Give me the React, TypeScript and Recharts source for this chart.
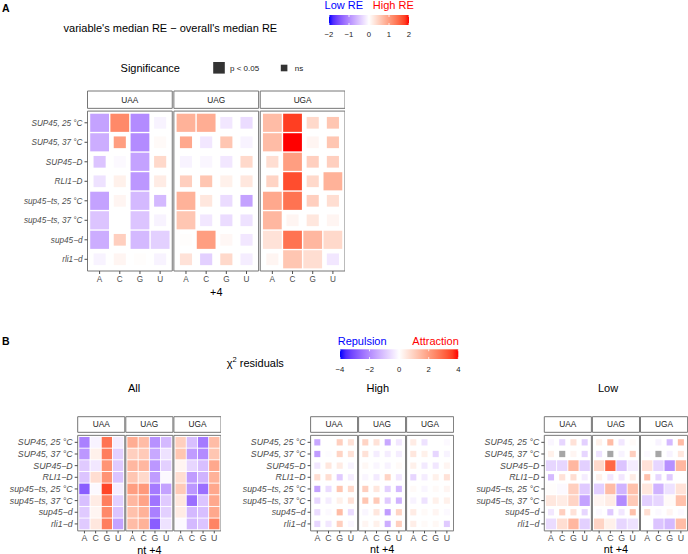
import React from "react";
import { ScatterChart, Scatter, XAxis, YAxis, ReferenceArea } from "recharts";

const FONT = '"Liberation Sans", Arial, Helvetica, sans-serif';
const BORDER = "#767676";
const NA_FILL = "#a6a6a6";

const rowLabels = [
  "SUP45, 25 °C",
  "SUP45, 37 °C",
  "SUP45−D",
  "RLI1−D",
  "sup45−ts, 25 °C",
  "sup45−ts, 37 °C",
  "sup45−d",
  "rli1−d",
];
const stopCodons = ["UAA", "UAG", "UGA"];
const nucleotides = ["A", "C", "G", "U"];

// panel A: variable's median RE - overall's median RE (UAA A C G U | UAG ... | UGA ...)
const reDiff = [
  [-0.8, 1.2, -1.0, -0.1, 0.8, 0.85, -0.2, -0.3, 0.7, 1.8, 0.4, 0.6],
  [-0.7, 1.0, -1.0, 0.05, 0.9, -0.2, 0.6, -0.1, 0.7, 2.0, 0.1, 0.6],
  [-0.5, -0.05, -0.8, 0.4, -0.1, -0.08, -0.2, 0.4, 0.35, 1.0, 0.5, 0.5],
  [-0.25, 0.15, -0.9, 0.2, 0.5, 0.6, 0.15, 0.25, 0.45, 1.7, 0.4, 0.8],
  [-0.8, 0.1, -0.6, -0.6, 0.8, 0.25, -0.3, -0.8, 0.9, 1.4, 0.5, 0.35],
  [-0.5, 0, -0.5, -0.1, 0.6, -0.2, -0.3, -0.25, 0.75, 0.1, 0.25, 0.1],
  [-0.7, 0.5, -0.6, -0.4, 0.02, 1.0, 0.08, -0.2, 0.3, 1.4, 0.75, 0.4],
  [-0.1, 0.1, 0.02, -0.1, 0.3, -0.4, 0.4, -0.15, 0.1, 0.6, 0.35, -0.2],
];
// 1 = p < 0.05, 0 = ns
const reSig = [
  [1, 1, 1, 0, 1, 1, 0, 0, 1, 1, 0, 0],
  [1, 0, 1, 0, 0, 0, 0, 0, 1, 1, 0, 0],
  [0, 0, 1, 0, 0, 0, 0, 0, 0, 1, 0, 0],
  [0, 0, 1, 0, 0, 0, 0, 0, 0, 1, 0, 1],
  [1, 0, 1, 0, 1, 0, 0, 0, 1, 1, 0, 0],
  [1, 0, 1, 0, 1, 0, 0, 0, 1, 0, 0, 0],
  [1, 0, 1, 1, 0, 1, 0, 0, 1, 1, 1, 1],
  [0, 0, 0, 0, 0, 0, 0, 0, 0, 1, 1, 0],
];

// panel B: chi-squared residuals
const chiAll = [
  [-2.2, -0.2, 2.8, -0.3, 1.7, 1.4, -1.9, -1.2, 1.0, -1.1, -2.3, 1.4],
  [-1.8, 0.3, 2.6, -0.8, 1.0, 1.1, -1.5, -0.5, 1.2, -1.7, -2.0, 1.2],
  [-0.9, -0.4, 2.2, -0.9, 1.5, 1.5, -1.8, -0.8, 0.2, -0.7, -1.1, 1.8],
  [-1.0, 0.7, 2.2, -1.0, 1.2, 0.8, -1.7, -0.1, 0.7, -1.7, -1.3, 1.6],
  [-2.8, -0.1, 3.5, -0.3, 2.0, 2.1, -2.3, -1.6, 1.1, -1.8, -2.5, 1.8],
  [-1.1, 0.4, 2.6, -0.8, 1.5, 1.9, -2.4, -0.9, 0.5, -2.5, -1.0, 1.8],
  [-0.9, 0.2, 2.4, -1.0, 1.3, 1.6, -2.2, -0.8, 0.4, -1.2, -1.1, 1.8],
  [-0.9, 0.5, 2.6, -1.6, 1.4, 1.6, -2.8, -0.5, -0.1, -1.2, -1.0, 2.5],
];
const chiHigh = [
  [-1.5, 0, 1.0, 0.6, 0.9, 0.6, -1.5, -0.4, 0.4, -0.5, 0, -0.1],
  [-1.7, -0.05, 0.9, 0.6, 0.6, -0.3, -0.3, -0.3, 0.5, 0.3, -0.7, -0.2],
  [-0.4, 0.5, 0.4, -0.2, 0.15, -0.15, -0.2, 0.1, 0.3, -0.35, -0.4, 0.2],
  [0.7, 0.7, -0.9, -0.3, -0.15, -0.35, 0.9, -0.4, -0.7, -0.3, 0.3, 0.6],
  [-1.6, -0.6, 1.2, 0.8, 1.0, 0.5, -0.8, -1.2, 0.1, -0.15, 0.1, 0.2],
  [-0.7, -0.3, 0.3, 0.6, 1.2, 1.1, -0.9, -1.3, -0.2, -0.5, 0.3, 0.3],
  [-0.6, -0.1, 1.4, -0.6, -0.15, 0.5, -1.7, 0.9, 0.4, 0.1, 0.2, -0.1],
  [-0.7, -0.4, 1.0, -0.15, 0.2, 0.3, -1.4, 1.0, 0.35, 0.1, 0.15, -0.9],
];
const chiLow = [
  [-0.15, -0.7, 0.6, -0.8, 0.3, 1.4, -0.4, 0.1, 0, -0.2, -1.2, 1.4],
  [0.3, null, 0.2, -0.7, -0.5, null, -0.2, 1.0, -0.1, null, -0.2, 0.5],
  [-0.7, -0.7, 1.5, -0.8, 0.8, 3.0, -1.0, -0.3, 0.6, -0.7, -1.9, 1.5],
  [-1.2, 0.6, 0.7, -0.3, 0.3, -0.4, -0.4, 0.4, 1.3, -0.7, -0.9, 0],
  [0.05, -0.1, 1.0, -0.9, -0.8, 1.4, -1.3, 1.3, 0.5, -1.3, -0.5, 0.6],
  [0.5, 0.4, 0.9, -1.6, 0.2, 0.4, -2.0, 1.1, -0.8, -0.7, 0.1, 1.3],
  [-0.4, 1.0, 0.6, -0.7, -0.1, -0.9, -0.4, 1.3, 0.7, -0.1, 0.2, -0.1],
  [-0.6, 0.7, 1.5, -0.8, 0.9, 0.3, -0.7, -0.5, 0, -1.0, -1.2, 1.4],
];
const lowSigRows = [0, 0, 1, 0, 1, 1, 0, 1];

const reBreaks = [-2, -1, 0, 1, 2];
const chiBreaks = [-4, -2, 0, 2, 4];

// gradient2 (blue - white - red), interpolated in Lab like ggplot
function toLab([r, g, b]: number[]) {
  const lin = (c: number) => {
    c /= 255;
    return c <= 0.04045 ? c / 12.92 : Math.pow((c + 0.055) / 1.055, 2.4);
  };
  const R = lin(r), G = lin(g), B = lin(b);
  const X = (0.4124564 * R + 0.3575761 * G + 0.1804375 * B) / 0.95047;
  const Y = 0.2126729 * R + 0.7151522 * G + 0.072175 * B;
  const Z = (0.0193339 * R + 0.119192 * G + 0.9503041 * B) / 1.08883;
  const f = (t: number) => (t > 216 / 24389 ? Math.cbrt(t) : ((24389 / 27) * t + 16) / 116);
  const fx = f(X), fy = f(Y), fz = f(Z);
  return [116 * fy - 16, 500 * (fx - fy), 200 * (fy - fz)];
}

function fromLab([L, a, b]: number[]) {
  const fy = (L + 16) / 116;
  const fx = fy + a / 500;
  const fz = fy - b / 200;
  const inv = (f: number) => (f * f * f > 216 / 24389 ? f * f * f : (116 * f - 16) / (24389 / 27));
  const X = inv(fx) * 0.95047, Y = inv(fy), Z = inv(fz) * 1.08883;
  const R = 3.2404542 * X - 1.5371385 * Y - 0.4985314 * Z;
  const G = -0.969266 * X + 1.8760108 * Y + 0.041556 * Z;
  const B = 0.0556434 * X - 0.2040259 * Y + 1.0572252 * Z;
  const gam = (c: number) => {
    const v = c <= 0.0031308 ? 12.92 * c : 1.055 * Math.pow(c, 1 / 2.4) - 0.055;
    return Math.round(Math.max(0, Math.min(1, v)) * 255);
  };
  return `rgb(${gam(R)},${gam(G)},${gam(B)})`;
}

const WHITE_LAB = toLab([255, 255, 255]);
const BLUE_LAB = toLab([0, 0, 255]);
const RED_LAB = toLab([255, 0, 0]);

function fillFor(v: number | null, limit: number) {
  if (v === null || v === undefined) return NA_FILL;
  const t = Math.max(-1, Math.min(1, v / limit));
  const end = t < 0 ? BLUE_LAB : RED_LAB;
  const a = Math.abs(t);
  return fromLab(WHITE_LAB.map((w, k) => w + (end[k] - w) * a));
}

interface HeatmapProps {
  left: number;
  top: number;
  width: number;
  height: number;
  marginTop: number;
  yAxisWidth: number;
  xAxisHeight: number;
  xGap: number;
  yMin: number;
  stripBottom: number;
  values: (number | null)[][];
  isBig: (r: number, i: number) => boolean;
  limit: number;
  bigFrac: number;
  smallFrac: number;
  labelSize: number;
  stripSize: number;
  xTitle: string;
  xTitleOffset: number;
  xTickSize: number;
  xTickMargin: number;
}

function Heatmap(p: HeatmapProps) {
  const facetW = 4.2;
  const xStep = facetW + p.xGap;
  const xMax = 3 * facetW + 2 * p.xGap;
  const yMax = 8.2;
  const plotW = p.width - p.yAxisWidth;
  const plotH = p.height - p.marginTop - p.xAxisHeight;
  const cellX = plotW / xMax;
  const cellY = plotH / (yMax - p.yMin);

  const colTicks: number[] = [];
  stopCodons.forEach((_, f) => nucleotides.forEach((_, c) => colTicks.push(f * xStep + c + 0.6)));
  const rowTicks = rowLabels.map((_, r) => r + 0.6);

  const data: { x: number; y: number; v: number | null; big: boolean }[] = [];
  p.values.forEach((row, r) =>
    row.forEach((v, i) => {
      const f = Math.floor(i / 4);
      data.push({ x: f * xStep + (i % 4) + 0.6, y: r + 0.6, v, big: p.isBig(r, i) });
    })
  );

  const tile = (props: any) => {
    const { cx, cy, payload } = props;
    const frac = payload.big ? p.bigFrac : p.smallFrac;
    const w = cellX * frac;
    const h = cellY * frac;
    return <rect x={cx - w / 2} y={cy - h / 2} width={w} height={h} fill={fillFor(payload.v, p.limit)} />;
  };

  return (
    <div style={{ position: "absolute", left: p.left, top: p.top }}>
      <ScatterChart width={p.width} height={p.height} margin={{ top: p.marginTop, right: 0, bottom: 0, left: 0 }}>
        <XAxis
          type="number"
          dataKey="x"
          domain={[0, xMax]}
          ticks={colTicks}
          interval={0}
          allowDataOverflow
          height={p.xAxisHeight}
          axisLine={false}
          tickSize={p.xTickSize}
          tickMargin={p.xTickMargin}
          tickLine={{ stroke: "#4d4d4d" }}
          tick={(t: any) => (
            <text x={t.x} y={t.y} dy="0.71em" textAnchor="middle" fontSize={p.labelSize} fill="#4d4d4d">
              {nucleotides[t.index % 4]}
            </text>
          )}
          label={{ value: p.xTitle, position: "insideBottom", offset: p.xTitleOffset, fontSize: 10.8, fill: "#000" }}
        />
        <YAxis
          type="number"
          dataKey="y"
          domain={[p.yMin, yMax]}
          reversed
          ticks={rowTicks}
          interval={0}
          allowDataOverflow
          width={p.yAxisWidth}
          axisLine={false}
          tickSize={3}
          tickMargin={2}
          tickLine={{ stroke: "#4d4d4d" }}
          tick={(t: any) => (
            <text
              x={t.x}
              y={t.y}
              dy="0.35em"
              textAnchor="end"
              fontSize={p.labelSize}
              fontStyle="italic"
              fill="#4d4d4d"
            >
              {rowLabels[t.index]}
            </text>
          )}
        />
        {stopCodons.map((s, f) => (
          <ReferenceArea
            key={`strip-${s}`}
            x1={f * xStep}
            x2={f * xStep + facetW}
            y1={p.yMin}
            y2={p.stripBottom}
            fill="#ffffff"
            fillOpacity={1}
            stroke={BORDER}
            strokeWidth={1}
            ifOverflow="visible"
            label={{ value: s, position: "center", fontSize: p.stripSize, fill: "#1a1a1a" }}
          />
        ))}
        <Scatter data={data} isAnimationActive={false} shape={tile} />
        {stopCodons.map((s, f) => (
          <ReferenceArea
            key={`panel-${s}`}
            x1={f * xStep}
            x2={f * xStep + facetW}
            y1={0}
            y2={yMax}
            fill="none"
            fillOpacity={0}
            stroke={BORDER}
            strokeWidth={1}
            ifOverflow="visible"
          />
        ))}
      </ScatterChart>
    </div>
  );
}

function ColorBar({ id, x, y, w, h, limit, breaks, labelY }: any) {
  const stops = Array.from({ length: 21 }, (_, k) => k / 20);
  return (
    <g>
      <defs>
        <linearGradient id={id} x1="0" x2="1" y1="0" y2="0">
          {stops.map((s) => (
            <stop key={s} offset={s} stopColor={fillFor(-limit + 2 * limit * s, limit)} />
          ))}
        </linearGradient>
      </defs>
      <rect x={x} y={y} width={w} height={h} fill={`url(#${id})`} />
      {breaks.map((b: number) => {
        const bx = x + ((b + limit) / (2 * limit)) * w;
        return (
          <g key={b}>
            <line x1={bx} x2={bx} y1={y} y2={y + h * 0.2} stroke="#fff" strokeWidth={0.8} />
            <line x1={bx} x2={bx} y1={y + h * 0.8} y2={y + h} stroke="#fff" strokeWidth={0.8} />
            <text x={bx} y={labelY} textAnchor="middle" fontSize={7.7} fill="#222">
              {b < 0 ? `−${Math.abs(b)}` : b}
            </text>
          </g>
        );
      })}
    </g>
  );
}

export default function App() {
  return (
    <div
      style={{
        position: "absolute",
        left: 0,
        top: 0,
        width: 688,
        height: 554,
        background: "#fff",
        fontFamily: FONT,
        overflow: "hidden",
      }}
    >
      <Heatmap
        left={0}
        top={0}
        width={345}
        height={300}
        marginTop={91}
        yAxisWidth={87.5}
        xAxisHeight={29}
        xGap={0.08}
        yMin={-1.03}
        stripBottom={-0.14}
        values={reDiff}
        isBig={(r, i) => reSig[r][i] === 1}
        limit={2}
        bigFrac={0.93}
        smallFrac={0.6}
        labelSize={8.2}
        stripSize={8.3}
        xTitle="+4"
        xTitleOffset={4}
        xTickSize={3}
        xTickMargin={2}
      />
      <Heatmap
        left={0}
        top={400}
        width={221}
        height={154}
        marginTop={16.7}
        yAxisWidth={77.7}
        xAxisHeight={23.1}
        xGap={0.09}
        yMin={-1.6}
        stripBottom={-0.26}
        values={chiAll}
        isBig={() => true}
        limit={4}
        bigFrac={0.92}
        smallFrac={0.54}
        labelSize={8.8}
        stripSize={8.3}
        xTitle="nt +4"
        xTitleOffset={0.5}
        xTickSize={2.5}
        xTickMargin={1}
      />
      <Heatmap
        left={225}
        top={400}
        width={228.6}
        height={154}
        marginTop={16.7}
        yAxisWidth={85.6}
        xAxisHeight={23.1}
        xGap={0.09}
        yMin={-1.6}
        stripBottom={-0.26}
        values={chiHigh}
        isBig={() => false}
        limit={4}
        bigFrac={0.92}
        smallFrac={0.54}
        labelSize={8.8}
        stripSize={8.3}
        xTitle="nt +4"
        xTitleOffset={0.5}
        xTickSize={2.5}
        xTickMargin={1}
      />
      <Heatmap
        left={458}
        top={400}
        width={229.6}
        height={154}
        marginTop={16.7}
        yAxisWidth={86.3}
        xAxisHeight={23.1}
        xGap={0.09}
        yMin={-1.6}
        stripBottom={-0.26}
        values={chiLow}
        isBig={(r) => lowSigRows[r] === 1}
        limit={4}
        bigFrac={0.92}
        smallFrac={0.54}
        labelSize={8.8}
        stripSize={8.3}
        xTitle="nt +4"
        xTitleOffset={0.5}
        xTickSize={2.5}
        xTickMargin={1}
      />
      <svg
        width={688}
        height={554}
        style={{ position: "absolute", left: 0, top: 0, pointerEvents: "none", fontFamily: FONT }}
      >
        {/* panel A header */}
        <text x={2} y={11.5} fontSize={10.5} fontWeight="bold">A</text>
        <text x={63.6} y={32.3} fontSize={11} fill="#000">
          variable's median RE − overall's median RE
        </text>
        <text x={324.6} y={8.5} fontSize={11} fill="blue">Low RE</text>
        <text x={372.8} y={8.5} fontSize={11} fill="red">High RE</text>
        <ColorBar id="reBar" x={329} y={15} w={80} h={10} limit={2} breaks={reBreaks} labelY={36.8} />
        <text x={120.6} y={72.2} fontSize={11} fill="#000">Significance</text>
        <rect x={213.2} y={62} width={11.6} height={11.6} fill="#333" />
        <text x={230} y={70.9} fontSize={8} fill="#222">p &lt; 0.05</text>
        <rect x={280.8} y={64.7} width={6.6} height={6.6} fill="#333" />
        <text x={294.7} y={70.9} fontSize={8} fill="#222">ns</text>

        {/* panel B header */}
        <text x={2} y={345} fontSize={10.5} fontWeight="bold">B</text>
        <text x={337.7} y={344.6} fontSize={11} fill="blue">Repulsion</text>
        <text x={412.3} y={344.6} fontSize={11} fill="red">Attraction</text>
        <ColorBar id="chiBar" x={340} y={349.3} w={118.3} h={9.7} limit={4} breaks={chiBreaks} labelY={371.8} />
        <text x={226.8} y={366.6} fontSize={11} fill="#000">
          χ<tspan dy={-4.5} fontSize={7.5}>2</tspan>
          <tspan dy={4.5}> residuals</tspan>
        </text>
        <text x={134} y={392.2} fontSize={11} textAnchor="middle" fill="#000">All</text>
        <text x={377.8} y={392.2} fontSize={11} textAnchor="middle" fill="#000">High</text>
        <text x={608} y={392.2} fontSize={11} textAnchor="middle" fill="#000">Low</text>
      </svg>
    </div>
  );
}
